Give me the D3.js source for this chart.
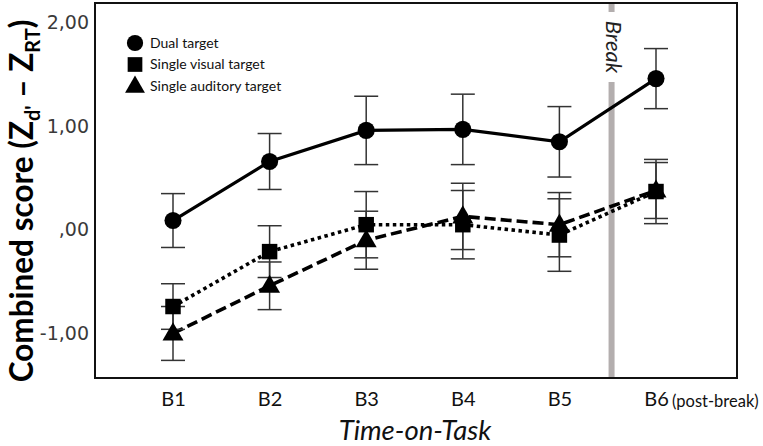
<!DOCTYPE html>
<html><head><meta charset="utf-8">
<script src="https://cdn.jsdelivr.net/npm/d3@7"></script>
<style>body{margin:0;background:#fff}svg{display:block}</style>
</head><body>
<svg id="chart" width="763" height="446"></svg>
<script>
const categories = ["B1","B2","B3","B4","B5","B6"];
const dualValues = [0.08, 0.65, 0.95, 0.96, 0.84, 1.45];
const dualErrors = [0.26, 0.27, 0.33, 0.34, 0.34, 0.29];
const visualValues = [-0.75, -0.22, 0.04, 0.04, -0.06, 0.36];
const visualErrors = [0.22, 0.25, 0.32, 0.33, 0.35, 0.31];
const auditoryValues = [-1.01, -0.55, -0.11, 0.12, 0.04, 0.37];
const auditoryErrors = [0.26, 0.23, 0.28, 0.32, 0.31, 0.27];
const yTicks = [-1, 0, 1, 2];
const yTickLabels = ["-1,00", ",00", "1,00", "2,00"];
const legendLabels = ["Dual target", "Single visual target", "Single auditory target"];
const breakIndex = 4.54;

(function(){
const svg = d3.select("#chart");
const pL = 95, pR = 737, pT = 3, pB = 378;
const x = d3.scaleLinear().domain([0, 5]).range([173, 656]);
const y = d3.scaleLinear().domain([-1.44, 2.18]).range([pB, pT]);
const font = "Lato, 'Open Sans', sans-serif";

// frame
svg.append("rect").attr("x", pL).attr("y", pT).attr("width", pR-pL).attr("height", pB-pT)
  .attr("fill", "none").attr("stroke", "#111").attr("stroke-width", 2);

// break line
const bx = x(breakIndex);
svg.append("line").attr("x1", bx).attr("x2", bx).attr("y1", pT+1).attr("y2", 12)
  .attr("stroke", "#b3aeae").attr("stroke-width", 6);
svg.append("line").attr("x1", bx).attr("x2", bx).attr("y1", 82).attr("y2", pB-1)
  .attr("stroke", "#b3aeae").attr("stroke-width", 6);
svg.append("text").attr("transform", `translate(${bx-6},47) rotate(90)`)
  .attr("text-anchor", "middle").attr("font-family", font)
  .attr("font-style", "italic").attr("font-size", 22).attr("fill", "#222").text("Break");

// y axis labels
const yAxis = d3.axisLeft(y).tickValues(yTicks).tickSize(0).tickPadding(0)
  .tickFormat((d,i) => yTickLabels[i]);
const gy = svg.append("g").attr("transform", `translate(89,0)`).call(yAxis);
gy.select(".domain").remove();
gy.selectAll("text").attr("font-family", "'DejaVu Sans', sans-serif").attr("font-size", 19)
  .attr("fill", "#3a3a3a").attr("dy", "0.36em");

// x axis labels
const xAxis = d3.axisBottom(x).tickValues(d3.range(6)).tickSize(0).tickPadding(0)
  .tickFormat(i => categories[i]);
const gx = svg.append("g").attr("transform", `translate(0,392)`).call(xAxis);
gx.select(".domain").remove();
gx.selectAll("text").attr("font-family", font).attr("font-size", 20)
  .attr("fill", "#111").attr("dy", "0.72em");
svg.append("text").attr("x", x(5)+16).attr("y", 407).attr("font-family", font)
  .attr("font-size", 16.5).attr("fill", "#111").text("(post-break)");

// axis titles
svg.append("text").attr("x", 415).attr("y", 440).attr("text-anchor", "middle")
  .attr("font-family", font).attr("font-style", "italic")
  .attr("font-size", 27.5).attr("fill", "#111").text("Time-on-Task");

const yt = svg.append("text").attr("transform", "translate(33,201) rotate(-90)")
  .attr("text-anchor", "middle").attr("font-family", font)
  .attr("font-weight", "bold").attr("font-size", 31.5).attr("fill", "#000");
yt.append("tspan").text("Combined score (Z");
yt.append("tspan").attr("font-size", 20).attr("dy", 7).text("d'");
yt.append("tspan").attr("dy", -7).text(" \u2013 Z");
yt.append("tspan").attr("font-size", 20).attr("dy", 7).text("RT");
yt.append("tspan").attr("dy", -7).text(")");

const series = [
  {name: legendLabels[0], values: dualValues, errors: dualErrors, dash: null, shape: d3.symbolCircle, size: 230},
  {name: legendLabels[1], values: visualValues, errors: visualErrors, dash: "3.5,3.5", shape: d3.symbolSquare, size: 240},
  {name: legendLabels[2], values: auditoryValues, errors: auditoryErrors, dash: "11,5", shape: d3.symbolTriangle, size: 190}
];

const line = d3.line().x((d,i) => x(i)).y(d => y(d));
series.forEach(s => {
  svg.append("path").datum(s.values).attr("d", line).attr("fill", "none")
    .attr("stroke", "#000").attr("stroke-width", s.dash ? 3.6 : 3.2)
    .attr("stroke-dasharray", s.dash);
});

// error bars
series.forEach(s => {
  const g = svg.append("g").attr("stroke", "#333").attr("stroke-width", 1.5);
  s.values.forEach((v, i) => {
    const cx = x(i), y1 = y(v + s.errors[i]), y2 = y(v - s.errors[i]);
    g.append("line").attr("x1", cx).attr("x2", cx).attr("y1", y1).attr("y2", y2);
    g.append("line").attr("x1", cx-12).attr("x2", cx+12).attr("y1", y1).attr("y2", y1);
    g.append("line").attr("x1", cx-12).attr("x2", cx+12).attr("y1", y2).attr("y2", y2);
  });
});

// markers
series.forEach(s => {
  svg.append("g").selectAll("path").data(s.values).join("path")
    .attr("d", d3.symbol().type(s.shape).size(s.size))
    .attr("transform", (d,i) => `translate(${x(i)},${y(d) + (s.shape === d3.symbolTriangle ? 1 : 0)})`)
    .attr("fill", "#000");
});

// legend
series.forEach((s, i) => {
  const ly = 43 + i*21.5;
  svg.append("path").attr("d", d3.symbol().type(s.shape).size(s.size*0.9))
    .attr("transform", `translate(135,${ly + (s.shape === d3.symbolTriangle ? 1 : 0)})`).attr("fill", "#000");
  svg.append("text").attr("x", 150).attr("y", ly).attr("dy", "0.35em")
    .attr("font-family", font).attr("font-size", 14).attr("fill", "#111")
    .text(s.name);
});
})();
</script>
</body></html>
